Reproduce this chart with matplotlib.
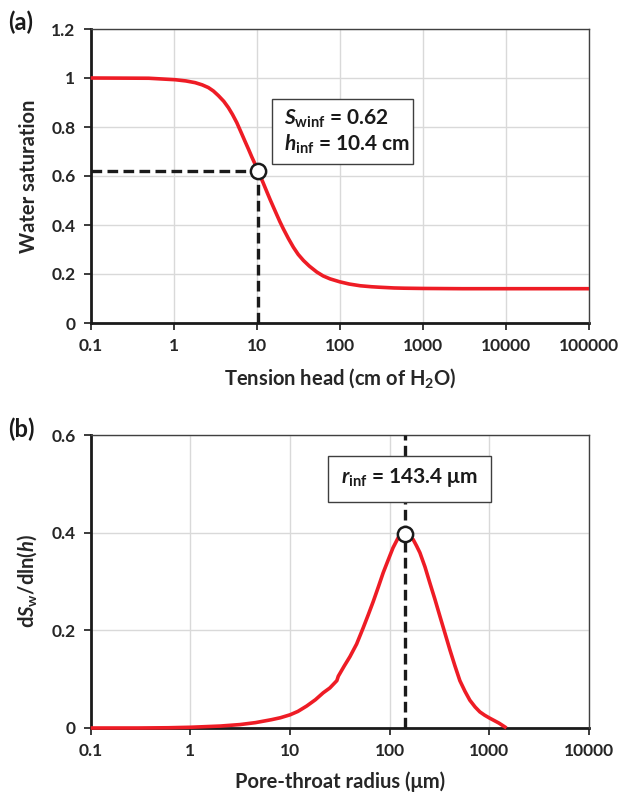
import matplotlib
matplotlib.use("Agg")
import matplotlib.pyplot as plt
from matplotlib.patches import Rectangle
from matplotlib.ticker import FixedLocator, FixedFormatter, NullLocator

plt.rcParams['font.family'] = ['Lato', 'DejaVu Sans']
plt.rcParams['font.weight'] = 'bold'
plt.rcParams['mathtext.fontset'] = 'custom'
plt.rcParams['mathtext.rm'] = 'Lato:bold'
plt.rcParams['mathtext.it'] = 'Lato:bold:italic'
plt.rcParams['mathtext.bf'] = 'Lato:bold'

# ---------- data (a) ----------
tension_head = [0.1, 0.5, 1.04, 1.4, 1.81, 2.2, 2.61, 3.0, 3.45, 4.0, 4.55, 5.1, 5.74, 6.59, 7.2,
                7.93, 8.7, 9.55, 10.4, 11.2, 12.0, 13.2, 14.5, 15.9, 17.4, 19.0, 20.9, 24.0,
                27.6, 31.5, 36.5, 43.0, 52.8, 63.0, 76.4, 100, 130, 176, 240, 300, 450, 600,
                1000, 3000, 10000, 100000]
water_sat = [1.0, 0.999, 0.993, 0.988, 0.981, 0.972, 0.961, 0.947, 0.928, 0.905, 0.879, 0.851,
             0.818, 0.772, 0.742, 0.71, 0.678, 0.648, 0.62, 0.594, 0.57, 0.536, 0.503, 0.472,
             0.442, 0.413, 0.384, 0.345, 0.309, 0.28, 0.255, 0.232, 0.208, 0.192, 0.18, 0.168,
             0.159, 0.152, 0.148, 0.146, 0.143, 0.142, 0.141, 0.14, 0.14, 0.14]
h_inf = 10.4
s_winf = 0.62
xticks_a = [0.1, 1, 10, 100, 1000, 10000, 100000]
xticklabels_a = ["0.1", "1", "10", "100", "1000", "10000", "100000"]
yticks_a = [0, 0.2, 0.4, 0.6, 0.8, 1.0, 1.2]
yticklabels_a = ["0", "0.2", "0.4", "0.6", "0.8", "1", "1.2"]

# ---------- data (b) ----------
pore_radius = [0.1, 0.3, 0.6, 1.0, 2.0, 3.14, 4.5, 6.5, 8.0, 10, 12, 14.7, 18, 21.5, 25.1, 29.5,
               30.5, 35, 39.9, 46.6, 54.2, 61, 68.4, 77, 86.1, 97, 108, 122, 132, 143.4, 155,
               172, 186, 201, 226, 253, 285, 319, 360, 402, 452, 506, 570, 637, 720, 803, 900,
               1012, 1250, 1486]
dsw_dlnh = [0.0, 0.0, 0.0005, 0.0015, 0.004, 0.007, 0.011, 0.017, 0.021, 0.027, 0.034, 0.045,
            0.058, 0.072, 0.082, 0.097, 0.106, 0.127, 0.146, 0.172, 0.205, 0.232, 0.259, 0.289,
            0.318, 0.345, 0.369, 0.39, 0.396, 0.397, 0.394, 0.386, 0.373, 0.359, 0.33, 0.297,
            0.263, 0.229, 0.193, 0.16, 0.127, 0.097, 0.075, 0.057, 0.043, 0.033, 0.026, 0.02,
            0.01, 0.0]
r_inf = 143.4
peak_val = 0.397
xticks_b = [0.1, 1, 10, 100, 1000, 10000]
xticklabels_b = ["0.1", "1", "10", "100", "1000", "10000"]
yticks_b = [0, 0.2, 0.4, 0.6]
yticklabels_b = ["0", "0.2", "0.4", "0.6"]

W, H = 618, 792
fig = plt.figure(figsize=(W / 100, H / 100), dpi=100)

RED = '#ee1c25'
GRID = '#d9d9d9'
TXT = '#262626'
TICK_FS = 12.5
LABEL_FS = 14.5
BOX_FS = 15


def px_rect(x0, y0, x1, y1):
    return [x0 / W, 1 - y1 / H, (x1 - x0) / W, (y1 - y0) / H]


def style_axes(ax, xticks, xlabels, yticks, ylabels):
    ax.set_xscale('log')
    ax.xaxis.set_major_locator(FixedLocator(xticks))
    ax.xaxis.set_major_formatter(FixedFormatter(xlabels))
    ax.xaxis.set_minor_locator(NullLocator())
    ax.yaxis.set_major_locator(FixedLocator(yticks))
    ax.yaxis.set_major_formatter(FixedFormatter(ylabels))
    ax.grid(True, color=GRID, lw=1.0, zorder=0)
    ax.set_axisbelow(True)
    for s in ['left', 'bottom']:
        ax.spines[s].set_linewidth(2.0)
        ax.spines[s].set_color('#1a1a1a')
        ax.spines[s].set_zorder(2)
    for s in ['top', 'right']:
        ax.spines[s].set_linewidth(1.0)
        ax.spines[s].set_color('#404040')
    ax.tick_params(axis='both', which='major', direction='out', length=5, width=1.2,
                   color='#1a1a1a', labelsize=TICK_FS, labelcolor=TXT, pad=6)
    for lab in ax.get_xticklabels() + ax.get_yticklabels():
        lab.set_fontweight('bold')


# ---------------- panel (a) ----------------
axa = fig.add_axes(px_rect(90.7, 29, 589, 323))
style_axes(axa, xticks_a, xticklabels_a, yticks_a, yticklabels_a)
axa.set_xlim(0.1, 100000)
axa.set_ylim(0, 1.2)
axa.plot([0.1, h_inf], [s_winf, s_winf], color='#1a1a1a', lw=2.4, ls=(0, (3.2, 1.6)), zorder=3)
axa.plot([h_inf, h_inf], [0, s_winf], color='#1a1a1a', lw=2.4, ls=(0, (3.2, 1.6)), zorder=3)
axa.plot(tension_head, water_sat, color=RED, lw=2.6, zorder=4, clip_on=False,
         solid_capstyle='butt', solid_joinstyle='round')
axa.plot([h_inf], [s_winf], marker='o', ms=11, mfc='white', mec='#1a1a1a', mew=1.8, zorder=6,
         clip_on=False)
axa.set_ylabel('Water saturation', fontsize=LABEL_FS, fontweight='bold', color=TXT, labelpad=9)
axa.set_xlabel('Tension head (cm of H$_{2}$O)', fontsize=LABEL_FS, fontweight='bold',
               color=TXT, labelpad=9)

boxa = Rectangle((272 / W, 1 - 164 / H), 141 / W, 65 / H, transform=fig.transFigure,
                 fc='white', ec='#3f3f3f', lw=1.0, zorder=7)
fig.add_artist(boxa)
fig.text(284 / W, 1 - 119 / H, r'$\mathit{S}_{\mathrm{winf}}$ = 0.62', fontsize=BOX_FS,
         fontweight='bold', color='#1a1a1a', va='center', ha='left', zorder=8)
fig.text(284 / W, 1 - 144.5 / H, r'$\mathit{h}_{\mathrm{inf}}$ = 10.4 cm', fontsize=BOX_FS,
         fontweight='bold', color='#1a1a1a', va='center', ha='left', zorder=8)
fig.text(21 / W, 1 - 22 / H, '(a)', fontsize=17, fontweight='bold', color='#1a1a1a',
         va='center', ha='center')

# ---------------- panel (b) ----------------
axb = fig.add_axes(px_rect(90.7, 435, 589, 728))
style_axes(axb, xticks_b, xticklabels_b, yticks_b, yticklabels_b)
axb.set_xlim(0.1, 10000)
axb.set_ylim(0, 0.6)
axb.plot([r_inf, r_inf], [0, 0.6], color='#1a1a1a', lw=2.4, ls=(0, (3.2, 1.6)), zorder=3)
axb.plot(pore_radius, dsw_dlnh, color=RED, lw=2.6, zorder=4, clip_on=False,
         solid_capstyle='butt', solid_joinstyle='round')
axb.plot([r_inf], [peak_val], marker='o', ms=11, mfc='white', mec='#1a1a1a', mew=1.8, zorder=6)
axb.set_ylabel(r'd$\mathit{S}_{\mathrm{w}}$/dln($\mathit{h}$)', fontsize=LABEL_FS,
               fontweight='bold', color=TXT, labelpad=9)
axb.set_xlabel('Pore-throat radius (\u03bcm)', fontsize=LABEL_FS, fontweight='bold',
               color=TXT, labelpad=9)

boxb = Rectangle((328 / W, 1 - 502 / H), 163 / W, 46 / H, transform=fig.transFigure,
                 fc='white', ec='#3f3f3f', lw=1.0, zorder=7)
fig.add_artist(boxb)
fig.text(409.5 / W, 1 - 478 / H, '$\\mathit{r}_{\\mathrm{inf}}$ = 143.4 \u03bcm', fontsize=BOX_FS,
         fontweight='bold', color='#1a1a1a', va='center', ha='center', zorder=8)
fig.text(21 / W, 1 - 429 / H, '(b)', fontsize=17, fontweight='bold', color='#1a1a1a',
         va='center', ha='center')

fig.savefig('out.png', dpi=100)
